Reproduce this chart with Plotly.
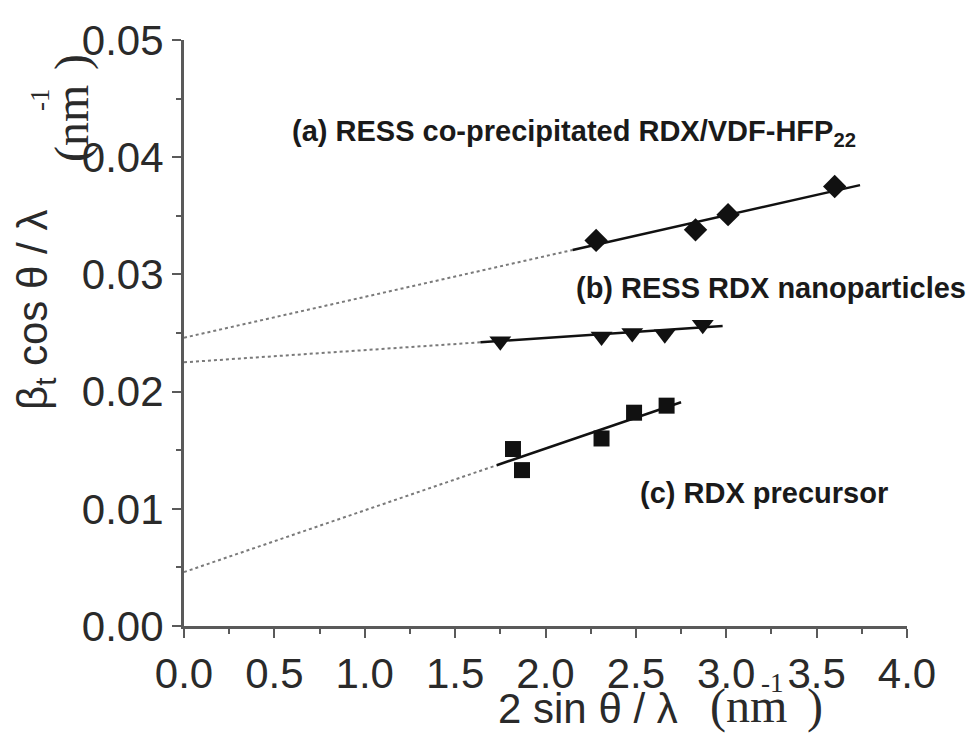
import plotly.graph_objects as go

# ---------------- data ----------------
series_names = ["(a) RESS co-precipitated RDX/VDF-HFP<sub>22</sub>",
                "(b) RESS RDX nanoparticles",
                "(c) RDX precursor"]
a_x = [2.28, 2.83, 3.01, 3.60]
a_y = [0.0329, 0.0338, 0.0351, 0.0375]
b_x = [1.75, 2.31, 2.48, 2.66, 2.87]
b_y = [0.0243, 0.0247, 0.0250, 0.0249, 0.0257]
c_x = [1.82, 1.87, 2.31, 2.49, 2.67]
c_y = [0.0151, 0.0133, 0.0160, 0.0182, 0.0188]

fit_intercepts = [0.0246, 0.0225, 0.0046]
fit_slopes = [0.00348, 0.00104, 0.00527]
fit_x_start = [2.15, 1.64, 1.73]
fit_x_end = [3.74, 2.98, 2.75]

label_x = [0.586, 2.16, 2.512]
label_y = [0.0421, 0.0288, 0.01135]

x_ticks = [0.0, 0.5, 1.0, 1.5, 2.0, 2.5, 3.0, 3.5, 4.0]
y_ticks = [0.00, 0.01, 0.02, 0.03, 0.04, 0.05]

symbols = ["diamond", "triangle-down", "square"]
sizes = [18, 19, 16]

# ---------------- figure ----------------
W, H = 974, 734
L, R, T, B = 184, 67, 40, 108
fig = go.Figure()

xs_all = [a_x, b_x, c_x]
ys_all = [a_y, b_y, c_y]
for i in range(3):
    b0, m = fit_intercepts[i], fit_slopes[i]
    xs0, xs1 = fit_x_start[i], fit_x_end[i]
    # dotted extrapolation to x=0
    fig.add_trace(go.Scatter(x=[0, xs0], y=[b0, b0 + m * xs0], mode="lines",
                             line=dict(color="#7a7a7a", width=2, dash="dot"),
                             showlegend=False, hoverinfo="skip"))
    # solid fit
    fig.add_trace(go.Scatter(x=[xs0, xs1], y=[b0 + m * xs0, b0 + m * xs1], mode="lines",
                             line=dict(color="#111111", width=2.5),
                             showlegend=False, hoverinfo="skip"))
    fig.add_trace(go.Scatter(x=xs_all[i], y=ys_all[i], mode="markers",
                             marker=dict(symbol=symbols[i], size=sizes[i], color="#111111",
                                         line=dict(width=0)),
                             name=series_names[i], showlegend=False))

axis_color = "#5a5a5a"
tick_font = dict(family="Liberation Sans, Arial, sans-serif", size=42, color="#2a2a2a")
fig.update_xaxes(range=[0, 4], tickvals=x_ticks, ticktext=[f"{v:.1f}" for v in x_ticks],
                 showgrid=False, zeroline=False, showline=True, linecolor=axis_color, linewidth=3,
                 ticks="outside", ticklen=9, tickwidth=2, tickcolor=axis_color, tickfont=tick_font,
                 minor=dict(ticks="outside", ticklen=5, tickwidth=2, tickcolor=axis_color, dtick=0.25))
fig.update_yaxes(range=[0, 0.05], tickvals=y_ticks, ticktext=[f"{v:.2f}" for v in y_ticks],
                 showgrid=False, zeroline=False, showline=True, linecolor=axis_color, linewidth=3,
                 ticks="outside", ticklen=9, tickwidth=2, tickcolor=axis_color, tickfont=tick_font,
                 minor=dict(ticks="outside", ticklen=5, tickwidth=2, tickcolor=axis_color, dtick=0.005))

ann_font = dict(family="Liberation Sans, Arial, sans-serif", size=29, color="#1a1a1a")
for i in range(3):
    fig.add_annotation(x=label_x[i], y=label_y[i], xref="x", yref="y", text="<b>" + series_names[i] + "</b>",
                       showarrow=False, xanchor="left", yanchor="middle", font=ann_font)

def px(xp, yp):
    return (xp - L) / (W - L - R), (H - B - yp) / (H - T - B)

sans = "Liberation Sans, Arial, sans-serif"
serif = "Liberation Serif, Times New Roman, serif"
title_parts = [
    # x-axis title
    ("2 sin θ / λ", 588, 708, sans, 42, 0),
    ("(nm", 748, 706, serif, 48, 0),
    (")", 815, 706, serif, 48, 0),
    ("-1", 772, 683, serif, 27, 0),
    # y-axis title
    ("β<sub>t</sub> cos θ / λ", 35, 310, sans, 42, -90),
    ("(nm", 72, 124, serif, 48, -90),
    ("-1", 40, 100, serif, 27, -90),
    (")", 72, 62, serif, 48, -90),
]
for txt, xp, yp, fam, sz, ang in title_parts:
    xx, yy = px(xp, yp)
    fig.add_annotation(x=xx, y=yy, xref="paper", yref="paper", text=txt, showarrow=False,
                       xanchor="center", yanchor="middle", textangle=ang,
                       font=dict(family=fam, size=sz, color="#2a2a2a"))

fig.update_layout(width=W, height=H, margin=dict(l=L, r=R, t=T, b=B),
                  plot_bgcolor="white", paper_bgcolor="white", showlegend=False)

fig.write_html("out.html")
